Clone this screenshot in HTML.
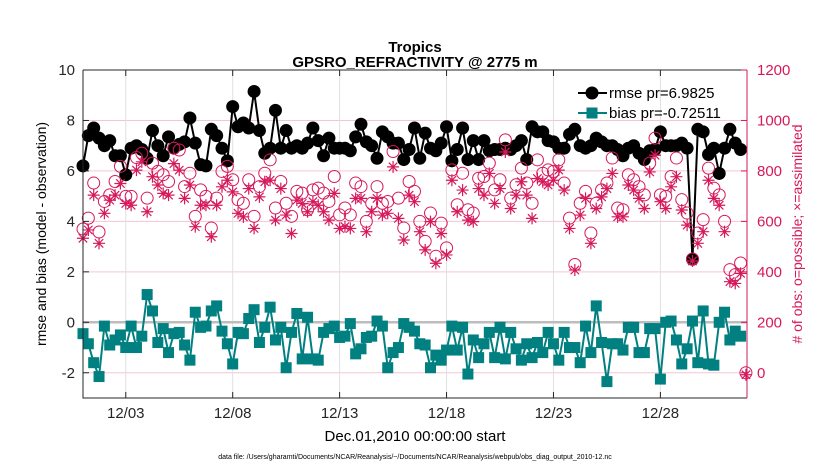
<!DOCTYPE html>
<html><head><meta charset="utf-8"><style>
html,body{margin:0;padding:0;background:#fff;}
svg{display:block;font-family:"Liberation Sans",Arial,sans-serif;}
</style></head><body>
<svg id="chart" width="830" height="470" viewBox="0 0 830 470" xmlns="http://www.w3.org/2000/svg">
<text x="415" y="52" text-anchor="middle" font-size="15" font-weight="bold">Tropics</text>
<text x="415" y="67" text-anchor="middle" font-size="15" font-weight="bold">GPSRO_REFRACTIVITY @ 2775 m</text>
<g id="grid"></g>
<g id="marks"></g>
<g id="axes"></g>
<text transform="translate(46,234) rotate(-90)" text-anchor="middle" font-size="14">rmse and bias (model - observation)</text>
<text transform="translate(802,234) rotate(-90)" text-anchor="middle" font-size="14" fill="#d6195b"># of obs: o=possible; ×=assimilated</text>
<text x="415" y="441" text-anchor="middle" font-size="15">Dec.01,2010 00:00:00 start</text>
<text x="415" y="459" text-anchor="middle" font-size="7">data file: /Users/gharamti/Documents/NCAR/Reanalysis/~/Documents/NCAR/Reanalysis/webpub/obs_diag_output_2010-12.nc</text>
<g>
<line x1="578" y1="93" x2="607" y2="93" stroke="#000" stroke-width="2"/>
<circle cx="592" cy="93" r="6.5" fill="#000"/>
<text x="609" y="98" font-size="15">rmse pr=6.9825</text>
<line x1="578" y1="113" x2="607" y2="113" stroke="#008080" stroke-width="2"/>
<rect x="586.5" y="107.5" width="11" height="11" fill="#008080"/>
<text x="609" y="118" font-size="15">bias pr=-0.72511</text>
</g>
</svg>
<script>
const rmse=[6.2,7.4,7.7,7.3,7.0,7.2,6.6,6.6,5.85,6.9,7.0,6.85,6.5,7.6,7.0,6.6,7.35,6.9,7.05,7.15,8.1,7.1,6.25,6.2,7.65,7.4,6.9,6.4,8.55,7.75,7.9,7.7,9.15,7.6,6.7,6.9,8.4,6.9,7.6,6.9,7.0,6.9,7.1,7.7,7.2,6.6,7.3,6.9,6.9,6.9,6.8,7.35,7.85,7.15,7.0,6.5,7.55,7.35,7.1,7.1,6.45,6.85,7.7,6.5,7.5,6.9,6.8,7.1,7.75,6.4,6.85,7.7,6.45,7.2,6.45,7.2,6.8,6.85,6.85,6.9,6.85,7.0,7.2,6.45,7.75,7.55,7.55,7.2,7.15,6.9,6.9,7.45,7.65,7.0,6.9,7.0,7.3,7.15,7.0,7.0,6.85,6.6,6.9,7.0,6.7,6.45,6.8,6.85,7.55,7.0,7.0,7.0,7.1,6.9,2.5,7.65,7.55,6.65,6.9,5.9,6.9,7.65,7.1,6.85];
const bias=[-0.45,-0.85,-1.6,-2.15,-0.15,-0.9,-0.7,-0.5,-1.0,-0.15,-1.0,-0.55,1.1,0.45,-0.8,-0.25,-1.2,-0.45,-0.4,-0.9,-1.5,0.4,-0.2,-0.15,0.45,0.65,-0.35,-0.85,-1.65,-0.4,-0.45,0.15,0.5,-0.8,-0.2,0.6,-0.7,-0.2,-1.8,-0.4,0.35,-1.45,0.2,-1.45,-1.5,-0.4,-0.25,-0.15,-0.6,-0.55,-0.05,-1.25,-1.05,-0.6,-0.55,0.05,-0.15,-1.8,-1.2,-1.0,-0.05,-0.2,-0.35,-0.85,-0.9,-1.8,-1.3,-1.5,-1.1,-0.15,-1.1,-0.2,-2.05,-0.7,-1.4,-0.85,-0.4,-1.4,-0.2,-1.45,-0.4,-1.05,-1.5,-0.85,-1.4,-0.8,-1.2,-0.4,-0.85,-1.5,-0.4,-1.0,-1.0,-1.6,-0.15,-1.2,0.65,-0.8,-2.35,-0.85,-0.85,-1.1,-0.2,-0.2,-1.2,-1.2,-0.25,-0.25,-2.25,0.0,0.05,-0.7,-1.65,-1.05,0.05,-1.6,0.45,-1.65,-1.7,0.0,0.4,-0.7,-0.35,-0.55];
const possible=[570,613,752,558,679,705,758,818,699,699,853,870,692,831,798,785,758,890,883,738,791,620,725,699,574,692,798,818,765,686,672,765,620,738,791,844,653,758,672,620,719,712,646,725,732,712,679,778,626,653,626,752,738,600,672,738,672,679,877,692,574,758,719,600,521,633,462,593,495,804,666,791,646,633,771,778,831,725,765,923,692,745,811,752,672,844,791,804,798,844,752,613,429,672,719,554,672,725,752,851,653,646,785,765,738,705,831,930,705,699,778,851,686,633,451,554,607,811,732,705,600,409,389,435,0];
const assimilated=[541,574,712,521,640,692,712,758,679,672,811,844,646,785,752,719,712,837,811,699,752,587,672,672,547,672,745,771,725,640,626,738,580,705,765,771,613,738,633,560,692,679,646,686,672,646,613,719,580,587,580,699,699,567,646,699,633,640,824,620,534,712,686,567,495,607,442,560,475,771,646,732,613,607,738,712,798,679,738,883,659,712,765,712,620,778,765,752,771,811,732,580,415,633,699,521,659,705,738,798,626,626,752,732,699,659,804,870,686,659,745,785,653,593,451,521,567,771,699,672,567,369,362,402,0];
const xTicks=[2,7,12,17,22,27];
const xTickLabels=["12/03","12/08","12/13","12/18","12/23","12/28"];
const yTicks=[-2,0,2,4,6,8,10];
const rTicks=[0,200,400,600,800,1000,1200];

const NS="http://www.w3.org/2000/svg";
const L=83,R=747,T=70,B=398;
const X=d=>L+(d/31.05)*(R-L);
const Y=v=>T+(10-v)/13*(B-T);
const YR=c=>Y(c/100-2);
function mk(tag,attrs,parent){const e=document.createElementNS(NS,tag);for(const k in attrs)e.setAttribute(k,attrs[k]);parent.appendChild(e);return e;}
const grid=document.getElementById('grid'),marks=document.getElementById('marks'),axes=document.getElementById('axes');

rTicks.forEach(c=>{const g=mk('line',{x1:L,x2:R,y1:YR(c),y2:YR(c),stroke:'#f3c6d6','stroke-width':1},grid);

});
xTicks.forEach(d=>{const g=mk('line',{x1:X(d),x2:X(d),y1:T,y2:B,stroke:'#e0e0e0','stroke-width':1},grid);

});
const zl=mk('line',{x1:L,x2:R,y1:Y(0),y2:Y(0),stroke:'#bdbdbd','stroke-width':2.5},grid);



const t=i=>i*0.25;
let pts=rmse.map((v,i)=>X(t(i))+','+Y(v)).join(' ');
const rl=mk('polyline',{points:pts,fill:'none',stroke:'#000','stroke-width':2},marks);


rmse.forEach((v,i)=>{const c=mk('circle',{cx:X(t(i)),cy:Y(v),r:6.5,fill:'#000'},marks);

});
pts=bias.map((v,i)=>X(t(i))+','+Y(v)).join(' ');
const bl=mk('polyline',{points:pts,fill:'none',stroke:'#008080','stroke-width':2},marks);


bias.forEach((v,i)=>{const s=mk('rect',{x:X(t(i))-5.5,y:Y(v)-5.5,width:11,height:11,fill:'#008080'},marks);

});
possible.forEach((c,i)=>{const e=mk('circle',{cx:X(t(i)),cy:YR(c),r:6,fill:'none',stroke:'#d6195b','stroke-width':1},marks);

});
assimilated.forEach((c,i)=>{const x=X(t(i)),y=YR(c)+2,s=6;
const d=`M${x-s},${y}H${x+s}M${x},${y-s}V${y+s}M${x-s*0.7},${y-s*0.7}L${x+s*0.7},${y+s*0.7}M${x-s*0.7},${y+s*0.7}L${x+s*0.7},${y-s*0.7}`;
const e=mk('path',{d:d,stroke:'#d6195b','stroke-width':1.2,fill:'none'},marks);

});

const fr=mk('path',{d:`M${L},${T}V${B}H${R}`,stroke:'#262626',fill:'none','stroke-width':1},axes);


const tl=mk('line',{x1:L,x2:R,y1:T,y2:T,stroke:'#262626'},axes);


const ra=mk('line',{x1:R,x2:R,y1:T,y2:B,stroke:'#d6195b'},axes);


yTicks.forEach(v=>{mk('line',{x1:L,x2:L+6,y1:Y(v),y2:Y(v),stroke:'#262626'},axes);
const e=mk('text',{x:L-8,y:Y(v)+5,'text-anchor':'end','font-size':15,fill:'#262626'},axes);e.textContent=v;

});
rTicks.forEach(c=>{mk('line',{x1:R-6,x2:R,y1:YR(c),y2:YR(c),stroke:'#d6195b'},axes);
const e=mk('text',{x:R+10,y:YR(c)+5,'font-size':15,fill:'#d6195b'},axes);e.textContent=c;

});
xTicks.forEach((d,i)=>{mk('line',{x1:X(d),x2:X(d),y1:T,y2:T+6,stroke:'#262626'},axes);mk('line',{x1:X(d),x2:X(d),y1:B-6,y2:B,stroke:'#262626'},axes);
const e=mk('text',{x:X(d),y:418,'text-anchor':'middle','font-size':15,fill:'#262626'},axes);e.textContent=xTickLabels[i];

});
</script>
</body></html>
